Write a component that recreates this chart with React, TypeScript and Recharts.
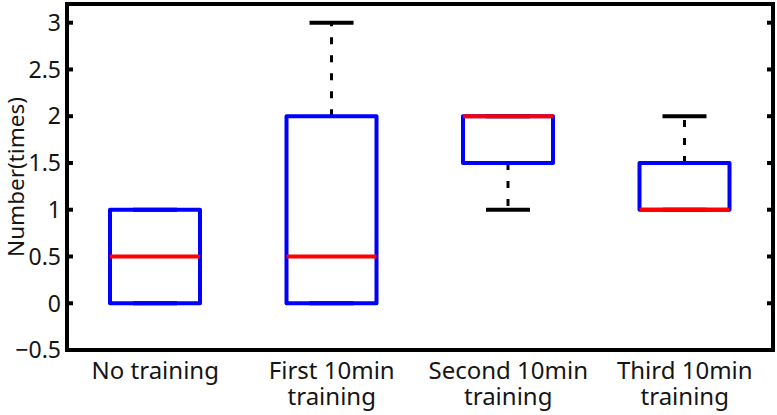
import React from 'react';
import { ComposedChart, Bar, XAxis, YAxis, Label, ReferenceLine } from 'recharts';

const categories = ['No training', 'First 10min\ntraining', 'Second 10min\ntraining', 'Third 10min\ntraining'];
const mins = [0, 0, 1, 1];
const q1s = [0, 0, 1.5, 1];
const medians = [0.5, 0.5, 2, 1];
const q3s = [1, 2, 2, 1.5];
const maxs = [1, 3, 2, 2];
const yTicks = [-0.5, 0, 0.5, 1, 1.5, 2, 2.5, 3];
const yDomain: [number, number] = [-0.5, 3.2];
const yLabel = 'Number(times)';

const data = categories.map((name, i) => ({
  name, min: mins[i], q1: q1s[i], median: medians[i], q3: q3s[i], max: maxs[i], range: [mins[i], maxs[i]],
}));

const FONT = '"Noto Sans", "Open Sans", sans-serif';
const TEXT = '#151515';
const MARGIN = { top: 4, right: 4, bottom: 0, left: 0 };

const BoxShape = (props: any) => {
  const { x, y, width, height, payload } = props;
  const top = Math.min(y, y + height);
  const bottom = Math.max(y, y + height);
  const lo = payload.min;
  const hi = payload.max;
  const py = (v: number) => bottom - ((v - lo) / (hi - lo)) * (bottom - top);
  const cx = x + width / 2;
  const capHalf = 22;
  return (
    <g>
      {payload.q3 < payload.max && (
        <line x1={cx} x2={cx} y1={py(payload.q3)} y2={py(payload.max)} stroke="#000" strokeWidth={3} strokeDasharray="7 11" />
      )}
      {payload.min < payload.q1 && (
        <line x1={cx} x2={cx} y1={py(payload.q1)} y2={py(payload.min)} stroke="#000" strokeWidth={3} strokeDasharray="7 11" />
      )}
      <line x1={cx - capHalf} x2={cx + capHalf} y1={py(payload.max)} y2={py(payload.max)} stroke="#000" strokeWidth={4} />
      <line x1={cx - capHalf} x2={cx + capHalf} y1={py(payload.min)} y2={py(payload.min)} stroke="#000" strokeWidth={4} />
      <rect x={x} y={py(payload.q3)} width={width} height={py(payload.q1) - py(payload.q3)} fill="none" stroke="#0000ff" strokeWidth={4} strokeLinejoin="round" />
      <line x1={x} x2={x + width} y1={py(payload.median)} y2={py(payload.median)} stroke="#ff0000" strokeWidth={4} />
    </g>
  );
};

const fmt = (v: number) => (v < 0 ? '\u2212' + String(Math.abs(v)) : String(v));

const LeftTick = (props: any) => {
  const { x, y, payload } = props;
  return (
    <text x={x} y={y} dy="0.36em" textAnchor="end" fontSize={23} fontFamily={FONT} fill={TEXT}>
      {fmt(payload.value)}
    </text>
  );
};

const BottomTick = (props: any) => {
  const { x, y, payload } = props;
  const lines = String(payload.value).split('\n');
  return (
    <text x={x} y={y + 29} textAnchor="middle" fontSize={24} fontFamily={FONT} fill={TEXT}>
      {lines.map((ln, i) => (
        <tspan key={i} x={x} dy={i === 0 ? 0 : 26}>{ln}</tspan>
      ))}
    </text>
  );
};

const YLabelContent = (props: any) => {
  const vb = props.viewBox || { x: 0, y: 4, width: 67, height: 346 };
  const cx = vb.x + 24;
  const cy = vb.y + vb.height / 2;
  return (
    <text x={cx} y={cy} transform={`rotate(-90 ${cx} ${cy})`} textAnchor="middle" fontSize={22.5} fontFamily={FONT} fill={TEXT}>
      {yLabel}
    </text>
  );
};

// Plot frame (box on), drawn from the x-axis viewBox
const FrameContent = (props: any) => {
  const vb = props.viewBox;
  if (!vb) return null;
  const left = vb.x;
  const right = vb.x + vb.width;
  const bottom = vb.y;
  const top = MARGIN.top;
  return (
    <rect x={left} y={top} width={right - left} height={bottom - top} fill="none" stroke="#000" strokeWidth={4} />
  );
};

const InwardTicks = (props: any) => {
  const { x1, x2, y1 } = props;
  const l = Math.min(x1, x2);
  const r = Math.max(x1, x2);
  return (
    <g>
      <line x1={l} x2={l + 6} y1={y1} y2={y1} stroke="#000" strokeWidth={4} />
      <line x1={r - 6} x2={r} y1={y1} y2={y1} stroke="#000" strokeWidth={4} />
    </g>
  );
};

export default function App() {
  return (
    <div style={{ position: 'absolute', left: 0, top: 0, width: 777, height: 415, background: '#fff' }}>
      <ComposedChart width={777} height={415} data={data} margin={MARGIN}>
        <XAxis dataKey="name" xAxisId={0} height={65} interval={0} tickLine={false} tickSize={0} tickMargin={0} axisLine={false} tick={<BottomTick />}>
          <Label content={<FrameContent />} />
        </XAxis>
        <YAxis yAxisId={0} width={67} domain={yDomain} ticks={yTicks} allowDataOverflow type="number" tickLine={false} tickSize={0} tickMargin={6} axisLine={false} tick={<LeftTick />} interval={0}>
          <Label content={<YLabelContent />} />
        </YAxis>
        {yTicks.filter((t) => t > yDomain[0]).map((t) => (
          <ReferenceLine key={t} y={t} xAxisId={0} yAxisId={0} stroke="none" shape={<InwardTicks />} />
        ))}
        <Bar dataKey="range" xAxisId={0} yAxisId={0} barSize={90} shape={<BoxShape />} isAnimationActive={false} />
      </ComposedChart>
    </div>
  );
}
